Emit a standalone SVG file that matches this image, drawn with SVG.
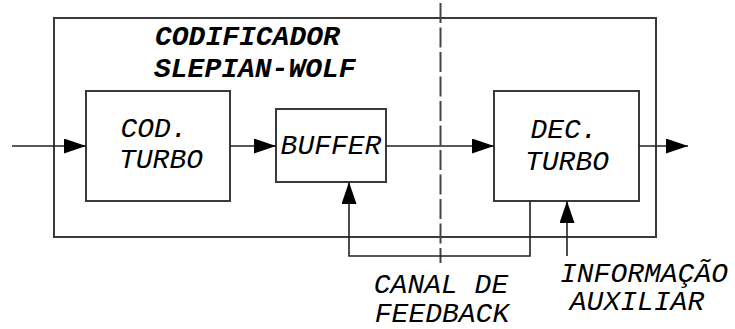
<svg xmlns="http://www.w3.org/2000/svg" width="735" height="329" viewBox="0 0 735 329">
<defs>
<marker id="ah" markerWidth="22" markerHeight="15" refX="22" refY="7.5" orient="auto" markerUnits="userSpaceOnUse">
<path d="M0,0 L22,7.5 L0,15 Z" fill="#000"/>
</marker>
<style>
.box{fill:none;stroke:#3a3a3a;stroke-width:2}
.ln{fill:none;stroke:#222;stroke-width:1.6}
.t{font-family:"Liberation Mono","Courier New",monospace;font-style:italic;font-size:28px;fill:#000}
.b{font-weight:bold}
</style>
</defs>
<rect width="735" height="329" fill="#fff"/>
<g id="codificador">
<rect class="box" x="54" y="18" width="602" height="219"/>
<text class="t b" x="155" y="45">CODIFICADOR</text>
<text class="t b" x="154" y="77">SLEPIAN-WOLF</text>
</g>
<g id="cod-turbo">
<rect class="box" x="86" y="91" width="144" height="110"/>
<text class="t" x="154" y="137" text-anchor="middle">COD.</text>
<text class="t" x="161" y="168" text-anchor="middle">TURBO</text>
</g>
<g id="buffer">
<rect class="box" x="276" y="109" width="110" height="73"/>
<text class="t" x="331" y="154" text-anchor="middle">BUFFER</text>
</g>
<g id="dec-turbo">
<rect class="box" x="494" y="91" width="145" height="110"/>
<text class="t" x="564" y="138" text-anchor="middle">DEC.</text>
<text class="t" x="567" y="170" text-anchor="middle">TURBO</text>
</g>
<g id="divisor">
<line x1="440.5" y1="3" x2="440.5" y2="263" stroke="#444" stroke-width="2" stroke-dasharray="20 4.5"/>
</g>
<g id="labels">
<text class="t" x="441" y="293" text-anchor="middle">CANAL DE</text>
<text class="t" x="442" y="322" text-anchor="middle">FEEDBACK</text>
<text class="t" x="644" y="282" text-anchor="middle">INFORMAÇÃO</text>
<text class="t" x="637" y="310" text-anchor="middle">AUXILIAR</text>
</g>
<g id="connectors">
<line class="ln" x1="12" y1="146" x2="86" y2="146" marker-end="url(#ah)"/>
<line class="ln" x1="230" y1="146" x2="276" y2="146" marker-end="url(#ah)"/>
<line class="ln" x1="386" y1="146" x2="494" y2="146" marker-end="url(#ah)"/>
<line class="ln" x1="639" y1="146" x2="688" y2="146" marker-end="url(#ah)"/>
<polyline class="ln" points="530,201 530,256 349,256 349,182" marker-end="url(#ah)"/>
<line class="ln" x1="567" y1="256" x2="567" y2="201" marker-end="url(#ah)"/>
</g>
</svg>
